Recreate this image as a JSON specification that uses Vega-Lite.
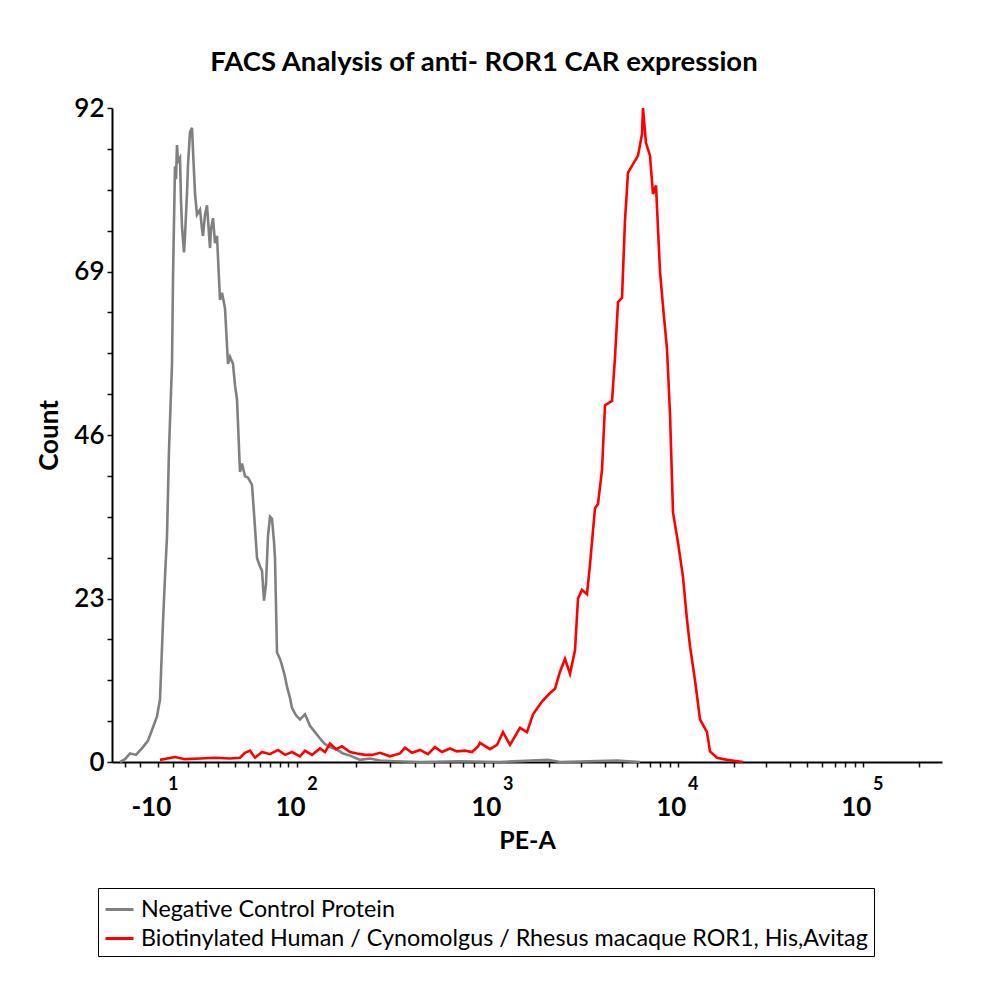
{
  "$schema": "https://vega.github.io/schema/vega-lite/v6.json",
  "width": 830,
  "height": 654,
  "autosize": {"type": "none"},
  "padding": {"left": 112, "top": 108, "right": 58, "bottom": 237},
  "background": "white",
  "config": {"view": {"stroke": null}, "font": "Lato"},
  "title": {
    "text": "FACS Analysis of anti- ROR1 CAR expression",
    "font": "Lato", "fontSize": 27.5, "fontWeight": "bold", "color": "#000",
    "anchor": "middle", "dx": -43, "baseline": "alphabetic", "offset": -3
  },
  "datasets": {
    "neg": [
      {"channel": 9.6, "count": 0}, {"channel": 15.6, "count": 0.4}, {"channel": 21.6, "count": 1.2},
      {"channel": 28.8, "count": 1.0}, {"channel": 37.2, "count": 2.1}, {"channel": 43.2, "count": 3.0},
      {"channel": 48, "count": 4.5}, {"channel": 54, "count": 6.4}, {"channel": 57.6, "count": 8.8},
      {"channel": 61.2, "count": 19.7}, {"channel": 63.6, "count": 26}, {"channel": 66, "count": 31.8},
      {"channel": 68.4, "count": 43.9}, {"channel": 70.8, "count": 52}, {"channel": 72, "count": 56},
      {"channel": 73.2, "count": 68}, {"channel": 74.4, "count": 76}, {"channel": 75.6, "count": 83.8},
      {"channel": 76.8, "count": 82}, {"channel": 78, "count": 86.8}, {"channel": 79.2, "count": 84.5},
      {"channel": 81.6, "count": 85}, {"channel": 82.8, "count": 79}, {"channel": 84, "count": 75.3},
      {"channel": 86.4, "count": 71.7}, {"channel": 87.6, "count": 74}, {"channel": 90, "count": 80},
      {"channel": 91.2, "count": 84}, {"channel": 93.6, "count": 88.6}, {"channel": 96, "count": 89.2},
      {"channel": 97.2, "count": 86}, {"channel": 99.6, "count": 80}, {"channel": 102, "count": 77},
      {"channel": 105.6, "count": 77.7}, {"channel": 108, "count": 75}, {"channel": 109.2, "count": 74},
      {"channel": 111.6, "count": 77}, {"channel": 114, "count": 78.3}, {"channel": 117.6, "count": 72.3},
      {"channel": 118.8, "count": 75}, {"channel": 121.2, "count": 76.5}, {"channel": 123.6, "count": 73},
      {"channel": 126, "count": 74}, {"channel": 129.6, "count": 65}, {"channel": 132, "count": 66},
      {"channel": 135.6, "count": 63.8}, {"channel": 139.2, "count": 56}, {"channel": 141.6, "count": 57},
      {"channel": 145.2, "count": 56}, {"channel": 147.6, "count": 53}, {"channel": 150, "count": 51},
      {"channel": 153.6, "count": 40.8}, {"channel": 156, "count": 42}, {"channel": 159.6, "count": 40.2},
      {"channel": 163.2, "count": 40}, {"channel": 168, "count": 39}, {"channel": 171.6, "count": 33},
      {"channel": 174, "count": 28.7}, {"channel": 177.6, "count": 27.5}, {"channel": 180, "count": 26.9},
      {"channel": 182.4, "count": 22.7}, {"channel": 184.8, "count": 25}, {"channel": 187.2, "count": 31.8},
      {"channel": 189.6, "count": 34.5}, {"channel": 192, "count": 34.2}, {"channel": 194.4, "count": 31},
      {"channel": 195.6, "count": 28.7}, {"channel": 198, "count": 15.4}, {"channel": 201.6, "count": 14.5},
      {"channel": 204, "count": 13.6}, {"channel": 207.6, "count": 12}, {"channel": 210, "count": 10.6},
      {"channel": 213.6, "count": 9}, {"channel": 216, "count": 7.6}, {"channel": 219.6, "count": 6.8},
      {"channel": 222, "count": 6.4}, {"channel": 225.6, "count": 6.0}, {"channel": 231.6, "count": 6.7},
      {"channel": 237.6, "count": 5.1}, {"channel": 243.6, "count": 4.2}, {"channel": 249.6, "count": 3.3},
      {"channel": 255.6, "count": 2.5}, {"channel": 261.6, "count": 2.1}, {"channel": 268.8, "count": 1.8},
      {"channel": 277.2, "count": 1.2}, {"channel": 285.6, "count": 0.9}, {"channel": 297.6, "count": 0.3},
      {"channel": 309.6, "count": 0.5}, {"channel": 321.6, "count": 0.2}, {"channel": 339.6, "count": 0.1},
      {"channel": 369.6, "count": 0}, {"channel": 417.6, "count": 0.1}, {"channel": 465.6, "count": 0},
      {"channel": 523.2, "count": 0.3}, {"channel": 537.6, "count": 0}, {"channel": 606, "count": 0.2},
      {"channel": 633.6, "count": 0}
    ],
    "bio": [
      {"channel": 57.6, "count": 0.3}, {"channel": 75.6, "count": 0.7}, {"channel": 87.6, "count": 0.4},
      {"channel": 105.6, "count": 0.5}, {"channel": 123.6, "count": 0.6}, {"channel": 141.6, "count": 0.5},
      {"channel": 153.6, "count": 0.6}, {"channel": 159.6, "count": 1.3}, {"channel": 165.6, "count": 1.6},
      {"channel": 171.6, "count": 0.6}, {"channel": 180, "count": 1.4}, {"channel": 189.6, "count": 1.1},
      {"channel": 199.2, "count": 1.7}, {"channel": 207.6, "count": 1.0}, {"channel": 216, "count": 1.4},
      {"channel": 225.6, "count": 0.8}, {"channel": 231.6, "count": 1.6}, {"channel": 240, "count": 1.0},
      {"channel": 249.6, "count": 1.9}, {"channel": 255.6, "count": 1.4}, {"channel": 261.6, "count": 2.6},
      {"channel": 268.8, "count": 1.8}, {"channel": 276, "count": 2.2}, {"channel": 285.6, "count": 1.4},
      {"channel": 294, "count": 1.2}, {"channel": 303.6, "count": 1.0}, {"channel": 312, "count": 1.0},
      {"channel": 321.6, "count": 1.3}, {"channel": 333.6, "count": 0.8}, {"channel": 345.6, "count": 1.2},
      {"channel": 351.6, "count": 2.0}, {"channel": 360, "count": 1.3}, {"channel": 369.6, "count": 1.7},
      {"channel": 379.2, "count": 1.1}, {"channel": 387.6, "count": 2.1}, {"channel": 396, "count": 1.4},
      {"channel": 405.6, "count": 1.9}, {"channel": 414, "count": 1.5}, {"channel": 423.6, "count": 1.6},
      {"channel": 432, "count": 1.4}, {"channel": 439.2, "count": 2.2}, {"channel": 441.6, "count": 2.7},
      {"channel": 453.6, "count": 1.8}, {"channel": 462, "count": 2.4}, {"channel": 469.2, "count": 4.2},
      {"channel": 477.6, "count": 2.4}, {"channel": 489.6, "count": 4.8}, {"channel": 498, "count": 4.2},
      {"channel": 505.2, "count": 6.7}, {"channel": 516, "count": 8.5}, {"channel": 525.6, "count": 9.7},
      {"channel": 531.6, "count": 10.3}, {"channel": 537.6, "count": 12.7}, {"channel": 543.6, "count": 14.5},
      {"channel": 549.6, "count": 12.4}, {"channel": 555.6, "count": 15.7}, {"channel": 559.2, "count": 23},
      {"channel": 564, "count": 24.2}, {"channel": 570, "count": 23.6}, {"channel": 573.6, "count": 27.8},
      {"channel": 579.6, "count": 35.7}, {"channel": 583.2, "count": 36.3}, {"channel": 588, "count": 41.1},
      {"channel": 591.6, "count": 50.2}, {"channel": 600, "count": 50.8}, {"channel": 603.6, "count": 56.9},
      {"channel": 607.2, "count": 64.7}, {"channel": 612, "count": 65.3}, {"channel": 615.6, "count": 76.2},
      {"channel": 619.2, "count": 82.9}, {"channel": 625.2, "count": 84.1}, {"channel": 631.2, "count": 85.3},
      {"channel": 636, "count": 88.3}, {"channel": 637.2, "count": 92}, {"channel": 640.8, "count": 87.1},
      {"channel": 645.6, "count": 85.3}, {"channel": 649.2, "count": 79.9}, {"channel": 652.8, "count": 81.1},
      {"channel": 657.6, "count": 69}, {"channel": 661.2, "count": 64.1}, {"channel": 666, "count": 58.1},
      {"channel": 669.6, "count": 49}, {"channel": 673.2, "count": 35.1}, {"channel": 679.2, "count": 30.9},
      {"channel": 685.2, "count": 26}, {"channel": 690, "count": 20}, {"channel": 693.6, "count": 16.3},
      {"channel": 699.6, "count": 11.5}, {"channel": 705.6, "count": 6}, {"channel": 714, "count": 4.2},
      {"channel": 717.6, "count": 1.5}, {"channel": 726, "count": 0.6}, {"channel": 738, "count": 0.3},
      {"channel": 757.2, "count": 0}
    ]
  },
  "layer": [
    {
      "data": {"name": "neg"},
      "mark": {"type": "line", "strokeWidth": 2.6},
      "encoding": {
        "x": {
          "field": "channel", "type": "quantitative",
          "scale": {"domain": [0, 996], "nice": false, "zero": false},
          "axis": {
            "title": "PE-A",
            "values": [16, 34, 55, 73, 91, 112, 127, 148, 163, 178, 190, 202, 211, 222, 293, 334, 364, 386, 405, 421, 434, 446, 457, 524, 563, 591, 612, 630, 645, 658, 669, 679, 746, 785, 813, 834, 852, 867, 880, 891, 901, 968],
            "labelExpr": "datum.value == 55 ? '-10' : ((datum.value == 222 || datum.value == 457 || datum.value == 679 || datum.value == 901) ? '10' : '')",
            "labelFont": "Lato", "labelFontSize": 26, "labelFontWeight": "bold", "labelColor": "#000",
            "labelBaseline": "alphabetic", "labelPadding": 48, "labelOffset": -7,
            "labelOverlap": false, "labelFlush": false, "labelBound": false,
            "tickSize": 5, "tickColor": "#111", "tickWidth": 1.5,
            "domainColor": "#000", "domainWidth": 2, "grid": false,
            "titleFont": "Lato", "titleFontSize": 25, "titleFontWeight": "bold", "titleColor": "#000",
            "titleBaseline": "alphabetic", "titleY": 86
          }
        },
        "y": {
          "field": "count", "type": "quantitative",
          "scale": {"domain": [0, 92], "nice": false},
          "axis": {
            "title": "Count",
            "values": [0, 5.75, 11.5, 17.25, 23, 28.75, 34.5, 40.25, 46, 51.75, 57.5, 63.25, 69, 74.75, 80.5, 86.25, 92],
            "labelExpr": "datum.value % 23 == 0 ? datum.label : ''",
            "labelFont": "Lato", "labelFontSize": 26, "labelFontWeight": 600, "labelColor": "#000", "labelPadding": 3,
            "labelOverlap": false, "labelFlush": false,
            "tickSize": 5, "tickColor": "#111", "tickWidth": 1.5,
            "domainColor": "#000", "domainWidth": 2, "grid": false,
            "titleFont": "Lato", "titleFontSize": 26, "titleFontWeight": "bold", "titleColor": "#000",
            "titleX": -55, "titleY": 327, "titleAngle": -90, "titleBaseline": "alphabetic", "titleAlign": "center"
          }
        },
        "color": {
          "datum": "Negative Control Protein", "type": "nominal",
          "scale": {
            "domain": ["Negative Control Protein", "Biotinylated Human / Cynomolgus / Rhesus macaque ROR1, His,Avitag"],
            "range": ["#808080", "#ff0000"]
          },
          "legend": {
            "title": null, "orient": "none", "legendX": -14, "legendY": 780, "direction": "vertical",
            "strokeColor": "#000", "padding": 6,
            "symbolType": "stroke", "symbolSize": 784, "symbolStrokeWidth": 3,
            "labelFont": "Lato", "labelFontSize": 23.3, "labelColor": "#000", "labelLimit": 1000,
            "labelOffset": 6, "rowPadding": 2
          }
        }
      }
    },
    {
      "data": {"name": "bio"},
      "mark": {"type": "line", "strokeWidth": 2.6},
      "encoding": {
        "x": {
          "field": "channel", "type": "quantitative",
          "axis": {
            "orient": "bottom", "title": null,
            "values": [55, 222, 457, 679, 901],
            "labelExpr": "datum.value == 55 ? '1' : datum.value == 222 ? '2' : datum.value == 457 ? '3' : datum.value == 679 ? '4' : '5'",
            "labelFont": "Lato", "labelFontSize": 18, "labelFontWeight": "bold", "labelColor": "#000",
            "labelBaseline": "alphabetic", "labelPadding": 27, "labelOffset": 15,
            "labelOverlap": false, "labelFlush": false, "labelBound": false,
            "ticks": false, "tickSize": 0, "domain": false, "grid": false
          }
        },
        "y": {"field": "count", "type": "quantitative"},
        "color": {"datum": "Biotinylated Human / Cynomolgus / Rhesus macaque ROR1, His,Avitag", "type": "nominal"}
      }
    }
  ],
  "resolve": {"axis": {"x": "independent"}}
}
